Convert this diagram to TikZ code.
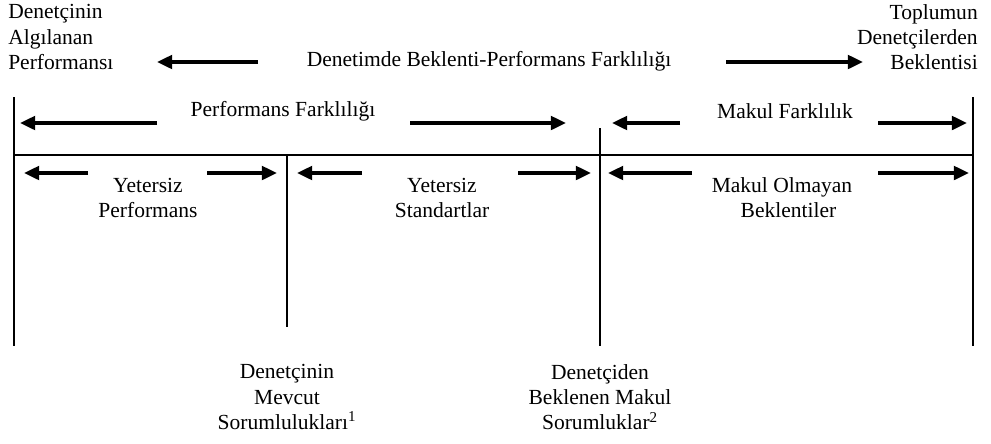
\documentclass[tikz,border=0pt]{standalone}
\usepackage{fontspec}
\setmainfont{Liberation Serif}
\usetikzlibrary{arrows.meta}

\tikzset{
  frame/.style={line width=1.4pt},
  gaparrow/.style={line width=2.4pt, -{Triangle[length=3.8mm,width=3.4mm]}},
  lbl/.style={inner sep=0pt, align=center, font=\fontsize{15.3pt}{17.8pt}\selectfont}
}

\begin{document}
\begin{tikzpicture}[x=0.025cm, y=-0.025cm]
  \useasboundingbox (0,0) rectangle (991,443);
  % cerceve
  \draw[frame] (14,97) -- (14,346);
  \draw[frame] (973,97) -- (973,346);
  \draw[frame] (14,155) -- (973,155);
  \draw[frame] (287,155) -- (287,327);
  \draw[frame] (600,128) -- (600,346);
  % ust etiketler
  \node[lbl, align=left, anchor=west] (algi) at (8,37)
    {Denet\c{c}inin\\Alg{\i}lanan\\Performans{\i}};
  \node[lbl, align=right, anchor=east] (bekle) at (978,37)
    {Toplumun\\Denet\c{c}ilerden\\Beklentisi};
  \node[lbl] (fark) at (489,61) {Denetimde Beklenti-Performans Farkl{\i}l{\i}\u{g}{\i}};
  % satir 2
  \node[lbl] (perf) at (283,111) {Performans Farkl{\i}l{\i}\u{g}{\i}};
  \node[lbl] (makul) at (785,111) {Makul Farkl{\i}l{\i}k};
  % satir 3
  \node[lbl] (yperf) at (148,198) {Yetersiz\\Performans};
  \node[lbl] (ystd) at (442,198) {Yetersiz\\Standartlar};
  \node[lbl] (molm) at (782,198) {Makul Olmayan\\\hspace{0.6em}Beklentiler};
  % alt etiketler
  \node[lbl] (mevcut) at (287,397) {Denet\c{c}inin\\Mevcut\\Sorumluluklar{\i}\textsuperscript{1}};
  \node[lbl] (beklenen) at (600,397) {Denet\c{c}iden\\Beklenen Makul\\Sorumluklar\textsuperscript{2}};
  % oklar
  \coordinate (t1a) at (258,62);  \coordinate (h1a) at (157,62);
  \coordinate (t1b) at (726,62);  \coordinate (h1b) at (863,62);
  \coordinate (t2a) at (157,123); \coordinate (h2a) at (20,123);
  \coordinate (t2b) at (410,123); \coordinate (h2b) at (566,123);
  \coordinate (t2c) at (680,123); \coordinate (h2c) at (612,123);
  \coordinate (t2d) at (878,123); \coordinate (h2d) at (967,123);
  \coordinate (t3a) at (88,173);  \coordinate (h3a) at (24,173);
  \coordinate (t3b) at (207,173); \coordinate (h3b) at (277,173);
  \coordinate (t3c) at (362,173); \coordinate (h3c) at (297,173);
  \coordinate (t3d) at (518,173); \coordinate (h3d) at (591,173);
  \coordinate (t3e) at (692,173); \coordinate (h3e) at (608,173);
  \coordinate (t3f) at (878,173); \coordinate (h3f) at (969,173);
  \foreach \a in {1a,1b,2a,2b,2c,2d,3a,3b,3c,3d,3e,3f}
    \draw[gaparrow] (t\a) -- (h\a);
\end{tikzpicture}
\end{document}
